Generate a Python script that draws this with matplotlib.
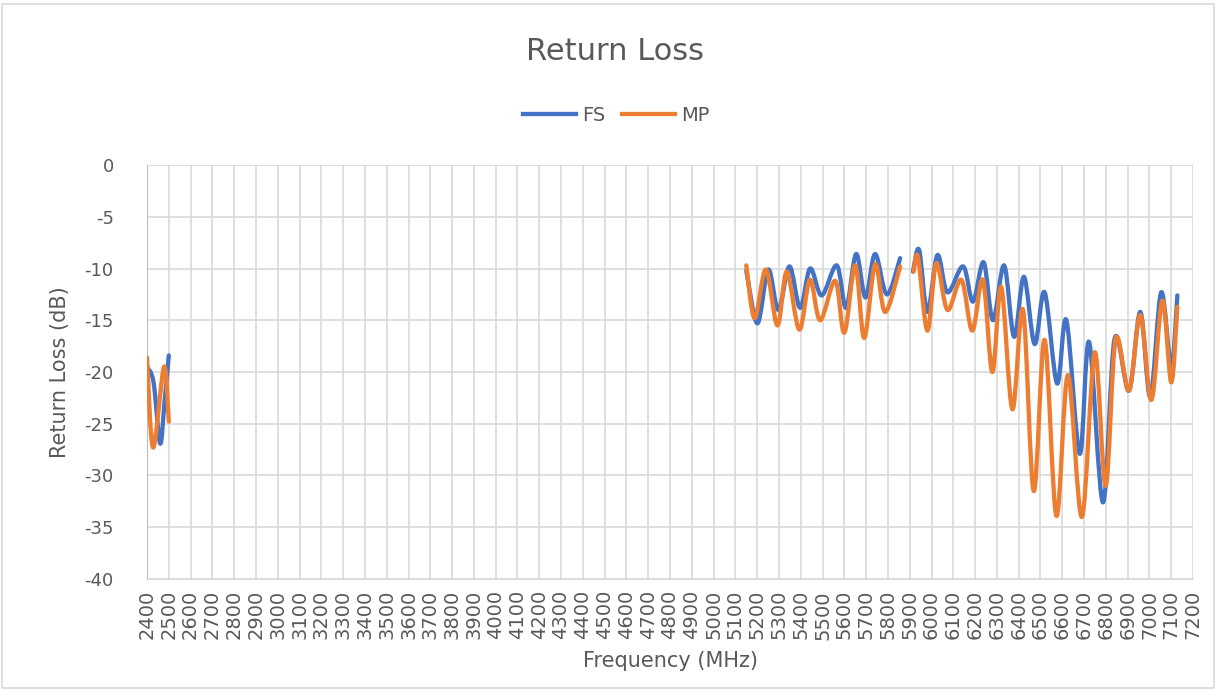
import numpy as np
import matplotlib.pyplot as plt
from matplotlib.path import Path
from matplotlib.patches import PathPatch, Rectangle
from matplotlib.lines import Line2D

# FS series, three measured bands (MHz, dB)
fs_f1 = [2400, 2430, 2460, 2480, 2500]
fs_v1 = [-19.5, -21.0, -26.9, -23.0, -18.4]
fs_f2 = [5150, 5201, 5251, 5297, 5348, 5397, 5443, 5496, 5565, 5608, 5654, 5697, 5741, 5795, 5856]
fs_v2 = [-10.2, -15.3, -10.1, -14.0, -9.8, -13.8, -10.0, -12.6, -9.7, -13.8, -8.6, -12.8, -8.6, -12.5, -9.0]
fs_f3 = [5915, 5943, 5981, 6027, 6073, 6145, 6190, 6239, 6282, 6333, 6379, 6424, 6473,
         6519, 6576, 6619, 6680, 6723, 6787, 6840, 6906, 6958, 7004, 7054, 7100, 7128]
fs_v3 = [-10.3, -8.2, -14.2, -8.7, -12.3, -9.8, -13.2, -9.4, -15.0, -9.7, -16.6, -10.8, -17.3,
         -12.3, -21.1, -15.0, -27.9, -17.1, -32.6, -16.8, -21.8, -14.2, -22.4, -12.3, -19.5, -12.6]

# MP series
mp_f1 = [2400, 2428, 2478, 2500]
mp_v1 = [-18.6, -27.3, -19.5, -24.8]
mp_f2 = [5150, 5188, 5240, 5293, 5336, 5393, 5442, 5489, 5558, 5600, 5650, 5691, 5741, 5787, 5856]
mp_v2 = [-9.7, -14.8, -10.1, -15.5, -10.3, -15.9, -11.1, -15.0, -11.2, -16.2, -9.7, -16.7, -9.6, -14.2, -9.8]
mp_f3 = [5918, 5938, 5981, 6022, 6073, 6137, 6187, 6236, 6279, 6320, 6371, 6420, 6469,
         6519, 6573, 6626, 6690, 6749, 6799, 6845, 6906, 6958, 7009, 7059, 7100, 7128]
mp_v3 = [-10.3, -8.9, -16.0, -9.5, -14.0, -11.1, -16.0, -11.1, -20.0, -11.8, -23.6, -14.0, -31.5,
         -16.9, -33.9, -20.3, -34.0, -18.1, -31.0, -16.8, -21.8, -14.5, -22.7, -13.1, -21.0, -13.7]

x_ticks = list(range(2400, 7201, 100))
y_ticks = list(range(0, -41, -5))

FS_COLOR = '#4472C4'
MP_COLOR = '#ED7D31'
TXT = '#595959'
GRID = '#d9d9d9'
LW = 3.1


def smooth_line(ax, xs, ys, color, z):
    # Excel-style smoothed line: bezier curve passing through each data point
    p = np.column_stack([xs, ys]).astype(float)
    p = np.vstack([p[0], p, p[-1]])
    verts = [tuple(p[1])]
    codes = [Path.MOVETO]
    for i in range(1, len(p) - 2):
        c1 = p[i] + (p[i + 1] - p[i - 1]) / 6
        c2 = p[i + 1] - (p[i + 2] - p[i]) / 6
        verts += [tuple(c1), tuple(c2), tuple(p[i + 1])]
        codes += [Path.CURVE4] * 3
    patch = PathPatch(Path(verts, codes), facecolor='none', edgecolor=color,
                      lw=LW, capstyle='round', joinstyle='round', zorder=z)
    ax.add_patch(patch)


fig = plt.figure(figsize=(12.18, 6.91), dpi=100)
ax = fig.add_axes([0.1207, 0.1621, 0.8588, 0.5991])

for f, v in [(fs_f1, fs_v1), (fs_f2, fs_v2), (fs_f3, fs_v3)]:
    smooth_line(ax, f, v, FS_COLOR, 3)
for f, v in [(mp_f1, mp_v1), (mp_f2, mp_v2), (mp_f3, mp_v3)]:
    smooth_line(ax, f, v, MP_COLOR, 4)

ax.set_xlim(2400, 7200)
ax.set_ylim(-40, 0)
ax.set_xticks(x_ticks)
ax.set_xticklabels([str(t) for t in x_ticks], rotation=90, fontsize=14, color=TXT)
ax.set_yticks(y_ticks)
ax.set_yticklabels([str(t) for t in y_ticks], fontsize=13, color=TXT)
ax.tick_params(axis='x', length=0, pad=8)
ax.tick_params(axis='y', length=0, pad=24)
ax.grid(True, color=GRID, lw=1.2)
ax.set_axisbelow(True)
for s in ax.spines.values():
    s.set_visible(False)
ax.spines['left'].set_visible(True)
ax.spines['left'].set_color('#bfbfbf')
ax.spines['bottom'].set_visible(True)
ax.spines['bottom'].set_color(GRID)

ax.set_xlabel('Frequency (MHz)', fontsize=15, color=TXT, labelpad=8)
ax.set_ylabel('Return Loss (dB)', fontsize=15, color=TXT, labelpad=10)

fig.text(0.505, 0.925, 'Return Loss', ha='center', va='center', fontsize=22, color=TXT)

handles = [Line2D([0], [0], color=FS_COLOR, lw=LW), Line2D([0], [0], color=MP_COLOR, lw=LW)]
fig.legend(handles, ['FS', 'MP'], loc='center', bbox_to_anchor=(0.506, 0.833), ncol=2,
           frameon=False, fontsize=14, labelcolor=TXT, handlelength=2.7, handletextpad=0.3,
           columnspacing=0.9)

fig.patches.append(Rectangle((0.002, 0.004), 0.995, 0.99, transform=fig.transFigure,
                             fill=False, edgecolor=GRID, lw=1.2))

fig.savefig('out.png', dpi=100)
